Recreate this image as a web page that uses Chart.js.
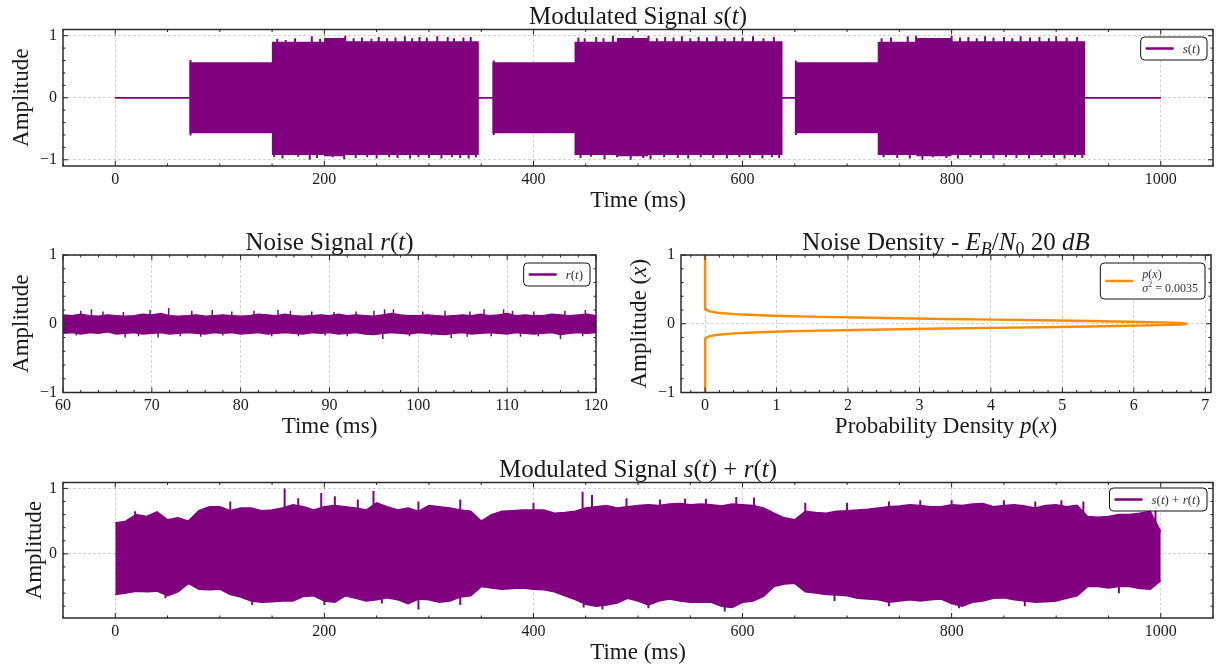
<!DOCTYPE html>
<html>
<head>
<meta charset="utf-8">
<script src="https://cdn.jsdelivr.net/npm/chart.js@4.4.1/dist/chart.umd.min.js"></script>
<style>
  html, body { margin: 0; padding: 0; background: #fff; }
  #fig { position: relative; width: 1217px; height: 665px; }
  #fig canvas { position: absolute; left: 0; top: 0; width: 1217px; height: 665px; }
</style>
</head>
<body>
<div id="fig">
  <canvas id="cTop" width="1217" height="665"></canvas>
  <canvas id="cNoise" width="1217" height="665"></canvas>
  <canvas id="cPdf" width="1217" height="665"></canvas>
  <canvas id="cSum" width="1217" height="665"></canvas>
</div>
<script>
// s(t): envelope of the modulated carrier, per segment (ms / amplitude)
const sigT  = [0, 71.7, 71.7, 150.5, 150.5, 200.5, 200.5, 219, 219, 347, 347, 361.5, 361.5, 440, 440, 480.5, 480.5, 509, 509, 637.5, 637.5, 651, 651, 730, 730, 767, 767, 799, 799, 927, 927, 1000];
const sigUp = [0, 0, 0.56, 0.56, 0.89, 0.89, 0.95, 0.95, 0.9, 0.9, 0, 0, 0.56, 0.56, 0.89, 0.89, 0.95, 0.95, 0.9, 0.9, 0, 0, 0.56, 0.56, 0.89, 0.89, 0.95, 0.95, 0.9, 0.9, 0, 0];
const sigLo = [0, 0, -0.56, -0.56, -0.91, -0.91, -0.93, -0.93, -0.91, -0.91, 0, 0, -0.56, -0.56, -0.91, -0.91, -0.93, -0.93, -0.91, -0.91, 0, 0, -0.56, -0.56, -0.91, -0.91, -0.93, -0.93, -0.91, -0.91, 0, 0];
// peaks sticking out of the s(t) envelope
const sigSpikeT = [72, 155, 163, 172, 188, 196, 220, 228, 236, 245, 252, 260, 268, 277, 284, 291, 298, 308, 318, 324, 333, 340,
  362, 443, 449, 460, 467, 476, 495, 510, 518, 526, 534, 542, 550, 558, 566, 575, 583, 592, 600, 610, 620, 630,
  651, 733, 742, 758, 766, 773, 800, 808, 816, 824, 832, 840, 850, 858, 866, 875, 884, 893, 900, 910, 920];
const sigSpikeV = [0.61, 0.95, 0.93, 0.96, 0.99, 0.95, 1.0, 0.96, 0.97, 0.95, 0.98, 0.96, 0.97, 0.99, 0.96, 0.98, 0.97, 0.99, 0.98, 0.96, 0.97, 0.98,
  0.6, 0.97, 0.96, 0.98, 0.96, 1.0, 0.99, 1.0, 0.96, 0.98, 0.97, 0.99, 0.96, 0.98, 0.97, 0.99, 0.96, 0.98, 0.97, 0.99, 0.96, 0.98,
  0.6, 0.96, 0.97, 0.99, 1.0, 0.95, 1.0, 0.97, 0.98, 0.96, 0.99, 0.97, 0.98, 0.96, 0.99, 0.97, 0.98, 0.96, 0.99, 0.97, 0.98];
const sigDipT = [72, 152, 160, 175, 186, 193, 208, 219, 230, 241, 250, 262, 270, 282, 290, 300, 312, 322, 330, 338, 345,
  362, 445, 455, 468, 480, 493, 505, 512, 525, 538, 548, 560, 572, 585, 597, 607, 619, 628, 635,
  651, 735, 748, 760, 772, 782, 795, 806, 818, 828, 840, 852, 862, 874, 886, 898, 908, 918, 925];
const sigDipV = [-0.61, -0.96, -0.98, -0.95, -1.0, -0.97, -0.96, -0.99, -0.97, -0.96, -0.98, -0.96, -0.97, -0.98, -0.96, -0.97, -0.98, -0.96, -0.97, -0.98, -0.96,
  -0.6, -0.97, -0.95, -0.99, -0.96, -1.0, -0.97, -0.99, -0.96, -0.97, -0.98, -0.96, -0.97, -0.98, -0.96, -0.97, -0.98, -0.96, -0.97,
  -0.6, -0.96, -0.97, -0.98, -1.0, -0.96, -0.97, -0.98, -0.96, -0.97, -0.98, -0.96, -0.97, -0.98, -0.96, -0.97, -0.98, -0.96, -0.97];

// r(t): noise band, sampled every 1 ms from 60 ms
const noiseT0 = 60, noiseDt = 1;
const noiseUp = [0.13, 0.12, 0.14, 0.12, 0.11, 0.13, 0.12, 0.11, 0.12, 0.14,
  0.13, 0.15, 0.12, 0.11, 0.12, 0.13, 0.11, 0.12, 0.13, 0.12,
  0.11, 0.12, 0.14, 0.13, 0.12, 0.14, 0.12, 0.11, 0.12, 0.13,
  0.12, 0.14, 0.12, 0.13, 0.12, 0.11, 0.13, 0.15, 0.13, 0.12,
  0.12, 0.13, 0.12, 0.11, 0.12, 0.13, 0.12, 0.14, 0.12, 0.13,
  0.15, 0.12, 0.13, 0.12, 0.12, 0.14, 0.13, 0.12, 0.13, 0.14, 0.12];
const noiseLo = [-0.14, -0.13, -0.15, -0.13, -0.14, -0.12, -0.15, -0.14, -0.13, -0.15,
  -0.14, -0.13, -0.15, -0.14, -0.13, -0.14, -0.15, -0.13, -0.14, -0.13,
  -0.15, -0.14, -0.13, -0.15, -0.14, -0.13, -0.14, -0.15, -0.13, -0.14,
  -0.13, -0.15, -0.14, -0.13, -0.15, -0.16, -0.14, -0.13, -0.14, -0.15,
  -0.13, -0.14, -0.15, -0.16, -0.14, -0.13, -0.15, -0.14, -0.13, -0.14,
  -0.15, -0.13, -0.14, -0.15, -0.14, -0.13, -0.16, -0.14, -0.13, -0.14, -0.13];
const noisePeakT = [62, 63.2, 64.5, 66.8, 69.8, 71.9, 74.5, 76.8, 79, 81.5, 84.2, 85.6, 88, 90.5, 93, 95, 96.2, 97.2, 100.5, 103, 105.8, 107.4, 109.6, 110.6, 113, 116.5, 118.8];
const noisePeakV = [0.19, 0.21, 0.18, 0.17, 0.2, 0.23, 0.19, 0.2, 0.18, 0.19, 0.2, 0.19, 0.18, 0.17, 0.18, 0.19, 0.21, 0.21, 0.18, 0.19, 0.18, 0.21, 0.21, 0.19, 0.18, 0.19, 0.2];
const noiseDipT = [61.5, 67, 68.5, 70.7, 73.2, 75.5, 78, 83.5, 86.5, 89.5, 92, 96, 99, 101.5, 103.7, 105.5, 108.2, 111.5, 113.5, 116, 118.5];
const noiseDipV = [-0.17, -0.2, -0.18, -0.2, -0.18, -0.19, -0.17, -0.18, -0.18, -0.17, -0.18, -0.22, -0.18, -0.17, -0.21, -0.19, -0.18, -0.19, -0.18, -0.22, -0.18];

// p(x): noise density, sigma^2 = 0.0035
const pdfAmp  = [-1, -0.5, -0.3, -0.25, -0.22, -0.2, -0.18, -0.16, -0.14, -0.13, -0.12, -0.11, -0.1, -0.09, -0.08, -0.07, -0.06, -0.05, -0.04, -0.03, -0.02, -0.01,
  0, 0.01, 0.02, 0.03, 0.04, 0.05, 0.06, 0.07, 0.08, 0.09, 0.1, 0.11, 0.12, 0.13, 0.14, 0.16, 0.18, 0.2, 0.22, 0.25, 0.3, 0.5, 1];
const pdfDens = [0, 0, 0, 0.001, 0.007, 0.022, 0.066, 0.174, 0.41, 0.603, 0.862, 1.197, 1.616, 2.12, 2.703, 3.348, 4.033, 4.718, 5.365, 5.93, 6.369, 6.647,
  6.743, 6.647, 6.369, 5.93, 5.365, 4.718, 4.033, 3.348, 2.703, 2.12, 1.616, 1.197, 0.862, 0.603, 0.41, 0.174, 0.066, 0.022, 0.007, 0.001, 0, 0, 0];

// s(t) + r(t): envelope sampled every 10 ms
const sumT0 = 0, sumDt = 10;
const sumUp = [0.47, 0.5, 0.6, 0.57, 0.64, 0.52, 0.55, 0.5, 0.66, 0.72,
  0.72, 0.66, 0.7, 0.7, 0.66, 0.67, 0.7, 0.75, 0.72, 0.67,
  0.72, 0.74, 0.72, 0.7, 0.67, 0.78, 0.72, 0.67, 0.7, 0.65,
  0.74, 0.72, 0.7, 0.67, 0.65, 0.5, 0.6, 0.65, 0.66, 0.67,
  0.67, 0.67, 0.62, 0.63, 0.65, 0.7, 0.72, 0.74, 0.7, 0.72,
  0.74, 0.75, 0.74, 0.76, 0.77, 0.75, 0.76, 0.75, 0.73, 0.76,
  0.75, 0.74, 0.7, 0.62, 0.55, 0.52, 0.65, 0.63, 0.62, 0.65,
  0.66, 0.67, 0.68, 0.7, 0.72, 0.73, 0.75, 0.74, 0.72, 0.72,
  0.75, 0.74, 0.76, 0.77, 0.72, 0.74, 0.75, 0.73, 0.7, 0.74,
  0.75, 0.72, 0.74, 0.57, 0.56, 0.57, 0.6, 0.6, 0.62, 0.65, 0.34];
const sumLo = [-0.62, -0.6, -0.57, -0.58, -0.57, -0.64, -0.58, -0.45, -0.54, -0.55,
  -0.54, -0.62, -0.66, -0.72, -0.74, -0.73, -0.72, -0.72, -0.65, -0.64,
  -0.72, -0.74, -0.64, -0.68, -0.72, -0.7, -0.67, -0.7, -0.76, -0.69,
  -0.7, -0.74, -0.72, -0.66, -0.64, -0.5, -0.52, -0.54, -0.53, -0.52,
  -0.54, -0.55, -0.58, -0.64, -0.7, -0.77, -0.8, -0.78, -0.75, -0.68,
  -0.72, -0.78, -0.72, -0.69, -0.72, -0.74, -0.74, -0.74, -0.8, -0.82,
  -0.74, -0.72, -0.65, -0.5, -0.46, -0.45, -0.58, -0.6, -0.62, -0.63,
  -0.64, -0.68, -0.69, -0.7, -0.74, -0.72, -0.7, -0.72, -0.7, -0.69,
  -0.76, -0.8, -0.74, -0.72, -0.68, -0.67, -0.7, -0.72, -0.74, -0.73,
  -0.72, -0.68, -0.64, -0.5, -0.5, -0.52, -0.5, -0.5, -0.53, -0.54, -0.41];
const sumPeakT = [19, 110, 162, 175, 197, 210, 232, 247, 290, 330, 400, 447, 456, 489, 521, 545, 565, 594, 611, 660, 700, 740, 770, 800, 850, 880, 905, 926, 995];
const sumPeakV = [0.65, 0.8, 1.0, 0.85, 0.93, 0.88, 0.83, 0.96, 0.8, 0.83, 0.78, 0.95, 0.9, 0.85, 0.83, 0.84, 0.84, 0.87, 0.86, 0.78, 0.78, 0.8, 0.82, 0.82, 0.82, 0.8, 0.82, 0.8, 0.72];
const sumDipT = [48, 131, 200, 255, 290, 330, 448, 466, 510, 583, 688, 740, 807, 870, 960];
const sumDipV = [-0.68, -0.78, -0.78, -0.76, -0.85, -0.78, -0.82, -0.85, -0.83, -0.88, -0.72, -0.8, -0.83, -0.8, -0.6];

// tick labels
const timeTicks  = [0, 200, 400, 600, 800, 1000];
const noiseTicks = [60, 70, 80, 90, 100, 110, 120];
const densTicks  = [0, 1, 2, 3, 4, 5, 6, 7];
const ampTicks   = [-1, 0, 1];
const sumAmpTicks = [0, 1];

const PURPLE = '#800080';
const ORANGE = '#ff8c00';
const FONT = 'Liberation Serif';
const INK = '#1a1a1a';

function pts(xs, ys) { return xs.map((x, i) => ({ x, y: ys[i] })); }
function sampled(t0, dt, ys) { return ys.map((y, i) => ({ x: t0 + i * dt, y })); }
function spikes(ts, vs) {
  const out = [];
  ts.forEach((t, i) => { out.push({ x: t, y: 0 }, { x: t, y: vs[i] }, { x: t, y: null }); });
  return out;
}
function fmt(v) { return v < 0 ? '\u2212' + Math.abs(v) : String(v); }

// mixed upright / italic / sub / sup text
function segFont(code, size) {
  const it = code.indexOf('i') >= 0;
  const small = code.indexOf('b') >= 0 || code.indexOf('p') >= 0;
  return (it ? 'italic ' : '') + (small ? Math.round(size * 0.7) : size) + 'px "' + FONT + '"';
}
function segsWidth(ctx, segs, size) {
  let w = 0;
  segs.forEach(s => { ctx.font = segFont(s[1], size); w += ctx.measureText(s[0]).width; });
  return w;
}
function drawSegs(ctx, segs, x, y, size, align) {
  const w = segsWidth(ctx, segs, size);
  let cx = align === 'center' ? x - w / 2 : x;
  ctx.textAlign = 'left';
  ctx.textBaseline = 'alphabetic';
  segs.forEach(s => {
    ctx.font = segFont(s[1], size);
    let dy = 0;
    if (s[1].indexOf('b') >= 0) dy = size * 0.22;
    if (s[1].indexOf('p') >= 0) dy = -size * 0.38;
    ctx.fillText(s[0], cx, y + dy);
    cx += ctx.measureText(s[0]).width;
  });
}

function decor(spec) {
  return {
    id: 'decor',
    afterDraw(chart) {
      const ctx = chart.ctx, a = chart.chartArea;
      const sx = chart.scales.x, sy = chart.scales.y;
      ctx.save();

      // inward ticks on all four sides
      ctx.strokeStyle = '#222';
      ctx.lineWidth = 1;
      const marks = (scale, major, step) => {
        const out = major.map(v => ({ v, len: 5 }));
        const start = Math.ceil(scale.min / step);
        for (let k = start; k * step <= scale.max + 1e-9; k++) {
          const v = +(k * step).toFixed(6);
          if (!major.some(m => Math.abs(m - v) < 1e-9)) out.push({ v, len: 2.5 });
        }
        return out;
      };
      ctx.beginPath();
      marks(sx, spec.xTicks, spec.xMinor).forEach(m => {
        const px = sx.getPixelForValue(m.v);
        ctx.moveTo(px, a.bottom); ctx.lineTo(px, a.bottom - m.len);
        ctx.moveTo(px, a.top); ctx.lineTo(px, a.top + m.len);
      });
      marks(sy, spec.yTicks, spec.yMinor).forEach(m => {
        const py = sy.getPixelForValue(m.v);
        ctx.moveTo(a.left, py); ctx.lineTo(a.left + m.len, py);
        ctx.moveTo(a.right, py); ctx.lineTo(a.right - m.len, py);
      });
      ctx.stroke();

      // frame
      ctx.lineWidth = 1.5;
      ctx.strokeStyle = '#2a2a2a';
      ctx.strokeRect(a.left, a.top, a.right - a.left, a.bottom - a.top);

      // titles
      ctx.fillStyle = INK;
      drawSegs(ctx, spec.title, (a.left + a.right) / 2, a.top - 5.5, 25, 'center');
      drawSegs(ctx, spec.xLabel, (a.left + a.right) / 2, a.bottom + 40.5, 23, 'center');
      ctx.save();
      ctx.translate(a.left - spec.yLabelOff, (a.top + a.bottom) / 2);
      ctx.rotate(-Math.PI / 2);
      drawSegs(ctx, spec.yLabel, 0, 0, 23, 'center');
      ctx.restore();

      // legend
      const lg = spec.legend;
      const fs = lg.size;
      const tw = Math.max(...lg.lines.map(l => segsWidth(ctx, l, fs)));
      const h = lg.lines.length > 1 ? 36 : 23;
      const right = a.right - 6, top = a.top + lg.dy;
      const left = right - (6 + 28 + 9 + tw + 6);
      const r = 4;
      ctx.beginPath();
      ctx.moveTo(left + r, top);
      ctx.lineTo(right - r, top); ctx.arcTo(right, top, right, top + r, r);
      ctx.lineTo(right, top + h - r); ctx.arcTo(right, top + h, right - r, top + h, r);
      ctx.lineTo(left + r, top + h); ctx.arcTo(left, top + h, left, top + h - r, r);
      ctx.lineTo(left, top + r); ctx.arcTo(left, top, left + r, top, r);
      ctx.closePath();
      ctx.fillStyle = 'rgba(255,255,255,0.85)';
      ctx.fill();
      ctx.lineWidth = 1;
      ctx.strokeStyle = '#111';
      ctx.stroke();
      ctx.beginPath();
      ctx.strokeStyle = lg.color;
      ctx.lineWidth = 2.5;
      ctx.moveTo(left + 5, top + h / 2); ctx.lineTo(left + 33, top + h / 2);
      ctx.stroke();
      ctx.fillStyle = '#333';
      if (lg.lines.length > 1) {
        drawSegs(ctx, lg.lines[0], left + 42, top + 15, fs, 'left');
        drawSegs(ctx, lg.lines[1], left + 42, top + 29, fs, 'left');
      } else {
        drawSegs(ctx, lg.lines[0], left + 42, top + h / 2 + 4.5, fs, 'left');
      }
      ctx.restore();
    }
  };
}

function axis(min, max, ticks, isX, size) {
  return {
    type: 'linear', min, max,
    afterBuildTicks: s => { s.ticks = ticks.map(v => ({ value: v })); },
    afterFit: s => { if (isX) s.height = size; else s.width = size; },
    grid: { color: 'rgba(0,0,0,0.22)', lineWidth: 0.8, drawTicks: false },
    border: { display: false, dash: [3, 2] },
    ticks: {
      autoSkip: false, maxRotation: 0, minRotation: 0,
      padding: isX ? 4 : 6,
      color: INK,
      font: { family: FONT, size: 16 },
      callback: v => fmt(v)
    }
  };
}

function makeChart(id, pad, xs, ys, datasets, spec) {
  return new Chart(document.getElementById(id), {
    type: 'line',
    data: { datasets },
    options: {
      responsive: false, animation: false, events: [],
      layout: { padding: pad },
      plugins: { legend: { display: false }, tooltip: { enabled: false } },
      elements: { point: { radius: 0 }, line: { tension: 0 } },
      scales: { x: xs, y: ys }
    },
    plugins: [decor(spec)]
  });
}

function band(up, lo, peaks, dips, lw, sw) {
  return [
    { data: up, borderColor: PURPLE, backgroundColor: PURPLE, borderWidth: lw, fill: '+1' },
    { data: lo, borderColor: PURPLE, borderWidth: lw, fill: false },
    { data: peaks, borderColor: PURPLE, borderWidth: sw, fill: false, spanGaps: false },
    { data: dips, borderColor: PURPLE, borderWidth: sw, fill: false, spanGaps: false }
  ];
}

const T_TITLE = [['Modulated Signal ', 'n'], ['s', 'i'], ['(', 'n'], ['t', 'i'], [')', 'n']];
const N_TITLE = [['Noise Signal ', 'n'], ['r', 'i'], ['(', 'n'], ['t', 'i'], [')', 'n']];
const P_TITLE = [['Noise Density - ', 'n'], ['E', 'i'], ['B', 'ib'], ['/', 'n'], ['N', 'i'], ['0', 'b'], [' 20 ', 'n'], ['dB', 'i']];
const S_TITLE = [['Modulated Signal ', 'n'], ['s', 'i'], ['(', 'n'], ['t', 'i'], [') + ', 'n'], ['r', 'i'], ['(', 'n'], ['t', 'i'], [')', 'n']];
const TIME = [['Time (ms)', 'n']];
const AMP = [['Amplitude', 'n']];

makeChart('cTop', { left: 23, right: 4, top: 29.5, bottom: 469 },
  axis(-50, 1050, timeTicks, true, 30), axis(-1.1, 1.1, ampTicks, false, 40),
  band(pts(sigT, sigUp), pts(sigT, sigLo), spikes(sigSpikeT, sigSpikeV), spikes(sigDipT, sigDipV), 1.5, 2),
  { title: T_TITLE, xLabel: TIME, yLabel: AMP, yLabelOff: 35, xTicks: timeTicks, xMinor: 50, yTicks: ampTicks, yMinor: 0.2,
    legend: { color: PURPLE, size: 13, dy: 7.5, lines: [[['s', 'i'], ['(', 'n'], ['t', 'i'], [')', 'n']]] } });

makeChart('cNoise', { left: 23, right: 621, top: 255, bottom: 242.5 },
  axis(60, 120, noiseTicks, true, 30), axis(-1, 1, ampTicks, false, 40),
  band(sampled(noiseT0, noiseDt, noiseUp), sampled(noiseT0, noiseDt, noiseLo), spikes(noisePeakT, noisePeakV), spikes(noiseDipT, noiseDipV), 1.2, 1.5),
  { title: N_TITLE, xLabel: TIME, yLabel: AMP, yLabelOff: 35, xTicks: noiseTicks, xMinor: 2, yTicks: ampTicks, yMinor: 0.2,
    legend: { color: PURPLE, size: 13, dy: 8, lines: [[['r', 'i'], ['(', 'n'], ['t', 'i'], [')', 'n']]] } });

makeChart('cPdf', { left: 641, right: 6, top: 255, bottom: 242.5 },
  axis(-0.337, 7.08, densTicks, true, 30), axis(-1, 1, ampTicks, false, 40),
  [{ data: pts(pdfDens, pdfAmp), borderColor: ORANGE, borderWidth: 2.5, fill: false }],
  { title: P_TITLE, xLabel: [['Probability Density ', 'n'], ['p', 'i'], ['(', 'n'], ['x', 'i'], [')', 'n']],
    yLabel: [['Amplitude (', 'n'], ['x', 'i'], [')', 'n']], yLabelOff: 35,
    xTicks: densTicks, xMinor: 0.2, yTicks: ampTicks, yMinor: 0.2,
    legend: { color: ORANGE, size: 12, dy: 8, lines: [
      [['p', 'i'], ['(', 'n'], ['x', 'i'], [')', 'n']],
      [['\u03c3', 'i'], ['2', 'p'], [' = 0.0035', 'n']]
    ] } });

makeChart('cSum', { left: 23, right: 4, top: 482.5, bottom: 17 },
  axis(-50, 1050, timeTicks, true, 30), axis(-0.98, 1.09, sumAmpTicks, false, 40),
  band(sampled(sumT0, sumDt, sumUp), sampled(sumT0, sumDt, sumLo), spikes(sumPeakT, sumPeakV), spikes(sumDipT, sumDipV), 1.5, 2),
  { title: S_TITLE, xLabel: TIME, yLabel: AMP, yLabelOff: 22, xTicks: timeTicks, xMinor: 50, yTicks: sumAmpTicks, yMinor: 0.2,
    legend: { color: PURPLE, size: 13, dy: 5.5, lines: [[['s', 'i'], ['(', 'n'], ['t', 'i'], [') + ', 'n'], ['r', 'i'], ['(', 'n'], ['t', 'i'], [')', 'n']]] } });
</script>
</body>
</html>
